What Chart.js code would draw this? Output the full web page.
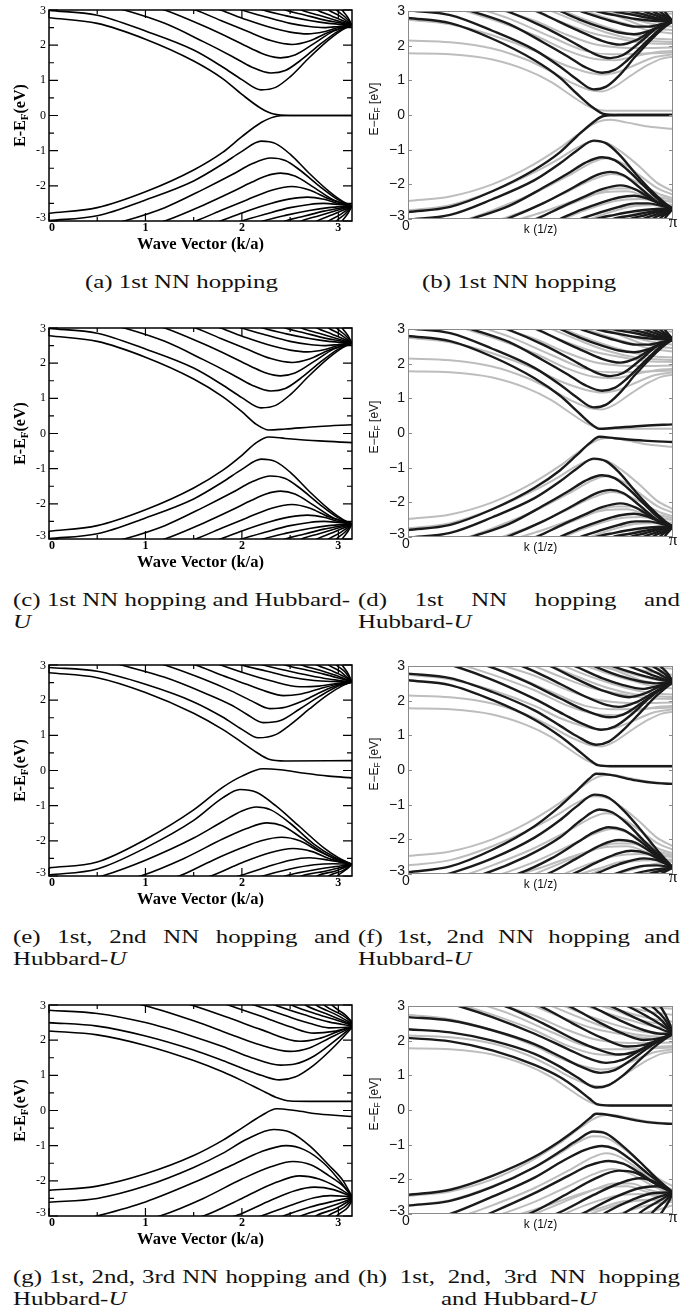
<!DOCTYPE html>
<html>
<head>
<meta charset="utf-8">
<title>band structures</title>
<script src="https://cdn.jsdelivr.net/npm/chart.js@4.4.1/dist/chart.umd.min.js"></script>
<style>
  html, body { margin: 0; padding: 0; background: #fff; }
  #page { position: relative; width: 680px; height: 1316px; overflow: hidden; }
  canvas { position: absolute; }
  .cap { position: absolute; font-family: "Liberation Serif", "Times New Roman", serif; font-size: 19px; line-height: 22px; white-space: nowrap; color: #111; transform-origin: 0 0; }
</style>
</head>
<body>
<div id="page"></div>
<script>
// axis ticks
var yTicks = [-3, -2, -1, 0, 1, 2, 3];
var yMinorLeft = [-2.5, -1.5, -0.5, 0.5, 1.5, 2.5];
var xTicksLeft = [0, 1, 2, 3];
var xMinorLeft = [0.5, 1.5, 2.5];
var xLabelsRight = [[0, '0'], [3.1416, 'π']];

// bands, each one a list of [k, E]
// (a) 1st NN
var aUp = [
  [[0,2.78],[0.5,2.62],[1.0,2.17],[1.5,1.55],[1.8,1.05],[2.0,0.6],[2.2,0.2],[2.33,0.04],[2.5,0],[3.1416,0]],
  [[0,2.99],[0.5,2.85],[1.0,2.4],[1.5,1.86],[1.8,1.38],[2.0,1.02],[2.2,0.73],[2.35,0.8],[2.5,1.1],[2.7,1.65],[2.9,2.15],[3.05,2.45],[3.1416,2.57]],
  [[0.6,3.12],[0.78,3.0],[1.2,2.62],[1.6,2.1],[1.9,1.68],[2.1,1.38],[2.3,1.21],[2.45,1.28],[2.6,1.55],[2.8,2.0],[3.0,2.4],[3.1416,2.57]],
  [[1.05,3.12],[1.2,3.0],[1.6,2.55],[1.9,2.17],[2.1,1.9],[2.25,1.72],[2.4,1.64],[2.55,1.72],[2.75,2.05],[2.95,2.4],[3.1416,2.57]],
  [[1.38,3.12],[1.52,3.0],[1.8,2.68],[2.05,2.4],[2.3,2.13],[2.52,2.02],[2.7,2.12],[2.9,2.37],[3.05,2.5],[3.1416,2.57]],
  [[1.65,3.12],[1.78,3.0],[2.05,2.72],[2.3,2.5],[2.5,2.37],[2.68,2.32],[2.85,2.38],[3.0,2.5],[3.1416,2.57]],
  [[1.88,3.12],[2.0,3.0],[2.25,2.8],[2.5,2.62],[2.7,2.53],[2.85,2.5],[3.0,2.53],[3.1416,2.57]],
  [[2.12,3.1],[2.22,3.0],[2.45,2.84],[2.7,2.7],[2.9,2.62],[3.1416,2.57]],
  [[2.37,3.1],[2.45,3.0],[2.65,2.86],[2.85,2.72],[3.0,2.64],[3.1416,2.57]],
  [[2.56,3.1],[2.62,3.0],[2.8,2.85],[2.98,2.7],[3.1416,2.57]],
  [[2.73,3.1],[2.78,3.0],[2.93,2.83],[3.06,2.68],[3.1416,2.57]],
  [[2.86,3.1],[2.9,3.0],[3.02,2.82],[3.1416,2.57]],
  [[2.95,3.1],[2.98,3.0],[3.07,2.8],[3.1416,2.57]],
  [[3.02,3.1],[3.04,3.0],[3.1,2.78],[3.1416,2.57]]
];
var aDn = [
  [[0,-2.78],[0.5,-2.62],[1.0,-2.17],[1.5,-1.55],[1.8,-1.05],[2.0,-0.6],[2.2,-0.2],[2.33,-0.04],[2.5,0],[3.1416,0]],
  [[0,-2.99],[0.5,-2.85],[1.0,-2.4],[1.5,-1.86],[1.8,-1.38],[2.0,-1.02],[2.2,-0.73],[2.35,-0.8],[2.5,-1.1],[2.7,-1.65],[2.9,-2.15],[3.05,-2.45],[3.1416,-2.57]],
  [[0.6,-3.12],[0.78,-3.0],[1.2,-2.62],[1.6,-2.1],[1.9,-1.68],[2.1,-1.38],[2.3,-1.21],[2.45,-1.28],[2.6,-1.55],[2.8,-2.0],[3.0,-2.4],[3.1416,-2.57]],
  [[1.05,-3.12],[1.2,-3.0],[1.6,-2.55],[1.9,-2.17],[2.1,-1.9],[2.25,-1.72],[2.4,-1.64],[2.55,-1.72],[2.75,-2.05],[2.95,-2.4],[3.1416,-2.57]],
  [[1.38,-3.12],[1.52,-3.0],[1.8,-2.68],[2.05,-2.4],[2.3,-2.13],[2.52,-2.02],[2.7,-2.12],[2.9,-2.37],[3.05,-2.5],[3.1416,-2.57]],
  [[1.65,-3.12],[1.78,-3.0],[2.05,-2.72],[2.3,-2.5],[2.5,-2.37],[2.68,-2.32],[2.85,-2.38],[3.0,-2.5],[3.1416,-2.57]],
  [[1.88,-3.12],[2.0,-3.0],[2.25,-2.8],[2.5,-2.62],[2.7,-2.53],[2.85,-2.5],[3.0,-2.53],[3.1416,-2.57]],
  [[2.12,-3.1],[2.22,-3.0],[2.45,-2.84],[2.7,-2.7],[2.9,-2.62],[3.1416,-2.57]],
  [[2.37,-3.1],[2.45,-3.0],[2.65,-2.86],[2.85,-2.72],[3.0,-2.64],[3.1416,-2.57]],
  [[2.56,-3.1],[2.62,-3.0],[2.8,-2.85],[2.98,-2.7],[3.1416,-2.57]],
  [[2.73,-3.1],[2.78,-3.0],[2.93,-2.83],[3.06,-2.68],[3.1416,-2.57]],
  [[2.86,-3.1],[2.9,-3.0],[3.02,-2.82],[3.1416,-2.57]],
  [[2.95,-3.1],[2.98,-3.0],[3.07,-2.8],[3.1416,-2.57]],
  [[3.02,-3.1],[3.04,-3.0],[3.1,-2.78],[3.1416,-2.57]]
];

// (c) same bands as (a) except the edge pair, which opens a gap
var cEdgeUp = [[0,2.78],[0.5,2.62],[1.0,2.17],[1.5,1.55],[1.8,1.05],[2.0,0.62],[2.15,0.26],[2.28,0.1],[2.45,0.13],[2.8,0.2],[3.1416,0.25]];
var cEdgeDn = [[0,-2.78],[0.5,-2.62],[1.0,-2.17],[1.5,-1.55],[1.8,-1.05],[2.0,-0.62],[2.15,-0.26],[2.28,-0.1],[2.45,-0.14],[2.8,-0.21],[3.1416,-0.26]];

// (e) 1st, 2nd NN + U
var eUp = [
  [[0,2.78],[0.5,2.64],[1.0,2.22],[1.5,1.63],[1.8,1.17],[2.0,0.8],[2.15,0.52],[2.28,0.32],[2.45,0.27],[3.1416,0.28]],
  [[0,2.93],[0.5,2.82],[1.0,2.45],[1.5,1.95],[1.8,1.52],[2.0,1.17],[2.17,0.93],[2.35,1.02],[2.5,1.3],[2.7,1.75],[2.9,2.17],[3.05,2.42],[3.1416,2.52]],
  [[0.6,3.12],[0.75,3.0],[1.2,2.65],[1.6,2.22],[1.9,1.85],[2.05,1.6],[2.22,1.36],[2.4,1.42],[2.6,1.75],[2.8,2.1],[3.0,2.4],[3.1416,2.52]],
  [[1.05,3.12],[1.2,3.0],[1.6,2.6],[1.9,2.25],[2.1,1.98],[2.29,1.76],[2.45,1.8],[2.65,2.0],[2.85,2.27],[3.0,2.43],[3.1416,2.52]],
  [[1.38,3.12],[1.52,3.0],[1.8,2.7],[2.05,2.45],[2.25,2.25],[2.43,2.13],[2.6,2.17],[2.8,2.32],[3.0,2.46],[3.1416,2.52]],
  [[1.66,3.12],[1.78,3.0],[2.05,2.75],[2.3,2.55],[2.6,2.38],[2.8,2.4],[3.0,2.48],[3.1416,2.52]],
  [[1.9,3.12],[2.0,3.0],[2.25,2.83],[2.5,2.66],[2.75,2.56],[2.95,2.53],[3.1416,2.52]],
  [[2.12,3.1],[2.22,3.0],[2.45,2.85],[2.7,2.7],[2.9,2.6],[3.1416,2.52]],
  [[2.37,3.1],[2.45,3.0],[2.65,2.87],[2.85,2.74],[3.0,2.63],[3.1416,2.52]],
  [[2.56,3.1],[2.62,3.0],[2.8,2.86],[2.98,2.7],[3.1416,2.52]],
  [[2.73,3.1],[2.78,3.0],[2.93,2.84],[3.06,2.67],[3.1416,2.52]],
  [[2.86,3.1],[2.9,3.0],[3.02,2.82],[3.1416,2.52]],
  [[2.95,3.1],[2.98,3.0],[3.07,2.8],[3.1416,2.52]],
  [[3.02,3.1],[3.04,3.0],[3.1,2.76],[3.1416,2.52]]
];
var eDn = [
  [[0,-2.77],[0.5,-2.6],[1.0,-1.96],[1.5,-1.12],[1.8,-0.48],[2.0,-0.16],[2.22,0.05],[2.4,0.02],[2.65,-0.08],[2.9,-0.16],[3.1416,-0.21]],
  [[0,-2.97],[0.5,-2.8],[1.0,-2.2],[1.5,-1.42],[1.8,-0.78],[1.98,-0.54],[2.15,-0.62],[2.35,-1.0],[2.6,-1.6],[2.85,-2.2],[3.0,-2.48],[3.1416,-2.67]],
  [[0.4,-3.1],[0.55,-3.0],[1.0,-2.55],[1.5,-1.92],[1.8,-1.45],[2.0,-1.15],[2.15,-1.04],[2.3,-1.12],[2.5,-1.5],[2.75,-2.1],[2.95,-2.45],[3.1416,-2.67]],
  [[0.8,-3.1],[0.95,-3.0],[1.4,-2.5],[1.8,-1.95],[2.05,-1.65],[2.26,-1.49],[2.42,-1.57],[2.62,-1.92],[2.85,-2.35],[3.0,-2.55],[3.1416,-2.67]],
  [[1.2,-3.1],[1.35,-3.0],[1.7,-2.55],[2.0,-2.2],[2.2,-2.0],[2.41,-1.9],[2.6,-2.0],[2.8,-2.3],[3.0,-2.55],[3.1416,-2.67]],
  [[1.55,-3.1],[1.68,-3.0],[2.0,-2.62],[2.3,-2.33],[2.53,-2.22],[2.72,-2.3],[2.92,-2.52],[3.1416,-2.67]],
  [[1.85,-3.1],[1.97,-3.0],[2.25,-2.75],[2.5,-2.55],[2.7,-2.48],[2.9,-2.55],[3.1416,-2.67]],
  [[2.12,-3.1],[2.22,-3.0],[2.5,-2.8],[2.75,-2.68],[2.95,-2.65],[3.1416,-2.67]],
  [[2.37,-3.1],[2.45,-3.0],[2.7,-2.85],[2.95,-2.74],[3.1416,-2.67]],
  [[2.56,-3.1],[2.62,-3.0],[2.85,-2.87],[3.02,-2.76],[3.1416,-2.67]],
  [[2.73,-3.1],[2.78,-3.0],[2.98,-2.85],[3.1416,-2.67]],
  [[2.86,-3.1],[2.9,-3.0],[3.05,-2.84],[3.1416,-2.67]],
  [[2.96,-3.1],[2.99,-3.0],[3.09,-2.8],[3.1416,-2.67]]
];

// (g) 1st, 2nd, 3rd NN + U
var gUp = [
  [[0,2.26],[0.5,2.15],[1.0,1.85],[1.5,1.42],[1.8,1.1],[2.0,0.85],[2.2,0.58],[2.35,0.38],[2.5,0.27],[2.7,0.26],[3.1416,0.26]],
  [[0,2.5],[0.5,2.4],[1.0,2.12],[1.5,1.72],[1.8,1.42],[2.05,1.15],[2.2,1.0],[2.39,0.87],[2.55,0.95],[2.75,1.3],[2.95,1.8],[3.1416,2.36]],
  [[0,2.85],[0.5,2.76],[1.0,2.5],[1.5,2.1],[1.8,1.82],[2.1,1.5],[2.4,1.29],[2.55,1.32],[2.75,1.55],[2.95,1.95],[3.1416,2.38]],
  [[0.8,3.1],[1.0,2.98],[1.5,2.55],[1.85,2.2],[2.15,1.9],[2.5,1.68],[2.7,1.78],[2.9,2.05],[3.05,2.25],[3.1416,2.38]],
  [[1.35,3.1],[1.5,2.98],[1.9,2.6],[2.2,2.3],[2.6,1.97],[2.8,2.05],[3.0,2.25],[3.1416,2.38]],
  [[1.75,3.1],[1.88,2.98],[2.2,2.68],[2.5,2.38],[2.75,2.2],[2.95,2.25],[3.1416,2.38]],
  [[2.02,3.1],[2.15,2.98],[2.45,2.7],[2.7,2.48],[2.9,2.35],[3.05,2.36],[3.1416,2.38]],
  [[2.25,3.1],[2.36,2.98],[2.65,2.72],[2.9,2.52],[3.1416,2.4]],
  [[2.45,3.1],[2.53,2.98],[2.8,2.72],[3.0,2.55],[3.1416,2.42]],
  [[2.6,3.1],[2.67,2.98],[2.9,2.72],[3.1416,2.45]],
  [[2.72,3.1],[2.78,2.98],[2.98,2.72],[3.1416,2.47]],
  [[2.82,3.1],[2.86,2.98],[3.05,2.7],[3.1416,2.5]],
  [[2.9,3.1],[2.94,2.98],[3.08,2.7],[3.1416,2.52]]
];
var gDn = [
  [[0,-2.27],[0.5,-2.15],[1.0,-1.8],[1.5,-1.28],[1.8,-0.85],[2.0,-0.5],[2.2,-0.15],[2.36,0.05],[2.55,0.0],[2.8,-0.1],[3.1416,-0.17]],
  [[0,-2.61],[0.5,-2.5],[1.0,-2.15],[1.5,-1.62],[1.8,-1.22],[2.05,-0.82],[2.33,-0.54],[2.5,-0.62],[2.7,-1.0],[2.9,-1.55],[3.05,-2.0],[3.1416,-2.45]],
  [[0.35,-3.1],[0.5,-3.0],[1.0,-2.6],[1.5,-2.05],[1.9,-1.55],[2.2,-1.17],[2.46,-1.0],[2.65,-1.12],[2.85,-1.5],[3.0,-1.95],[3.1416,-2.45]],
  [[1.0,-3.1],[1.15,-3.0],[1.6,-2.5],[2.0,-1.95],[2.3,-1.6],[2.53,-1.45],[2.72,-1.55],[2.9,-1.85],[3.05,-2.15],[3.1416,-2.45]],
  [[1.45,-3.1],[1.6,-3.0],[2.0,-2.5],[2.35,-2.05],[2.6,-1.86],[2.8,-1.95],[3.0,-2.2],[3.1416,-2.45]],
  [[1.8,-3.1],[1.95,-2.98],[2.3,-2.55],[2.55,-2.28],[2.75,-2.18],[2.95,-2.25],[3.1416,-2.45]],
  [[2.1,-3.1],[2.22,-2.98],[2.5,-2.7],[2.75,-2.48],[2.92,-2.42],[3.1416,-2.45]],
  [[2.35,-3.1],[2.45,-2.98],[2.7,-2.75],[2.95,-2.58],[3.1416,-2.47]],
  [[2.55,-3.1],[2.63,-2.98],[2.88,-2.76],[3.05,-2.6],[3.1416,-2.5]],
  [[2.72,-3.1],[2.78,-2.98],[2.98,-2.78],[3.1416,-2.52]],
  [[2.85,-3.1],[2.9,-2.98],[3.06,-2.75],[3.1416,-2.54]],
  [[2.95,-3.1],[2.99,-2.98],[3.1,-2.75],[3.1416,-2.56]]
];

// (b) black bands, right column
var bUp = [
  [[0,2.8],[0.5,2.65],[1.0,2.2],[1.5,1.58],[1.8,1.08],[2.0,0.62],[2.2,0.2],[2.32,0.03],[2.5,0],[3.1416,0]],
  [[0,3.02],[0.5,2.88],[1.0,2.43],[1.5,1.88],[1.8,1.4],[2.0,1.03],[2.2,0.74],[2.35,0.82],[2.5,1.13],[2.7,1.7],[2.9,2.22],[3.05,2.55],[3.1416,2.7]],
  [[0.6,3.12],[0.75,3.0],[1.2,2.62],[1.6,2.1],[1.9,1.68],[2.1,1.38],[2.3,1.22],[2.45,1.3],[2.6,1.58],[2.8,2.05],[3.0,2.5],[3.1416,2.7]],
  [[1.03,3.12],[1.17,3.0],[1.6,2.55],[1.9,2.17],[2.1,1.9],[2.25,1.72],[2.4,1.64],[2.55,1.73],[2.75,2.1],[2.95,2.5],[3.1416,2.7]],
  [[1.38,3.12],[1.52,3.0],[1.8,2.68],[2.05,2.4],[2.3,2.14],[2.52,2.03],[2.7,2.15],[2.9,2.45],[3.05,2.62],[3.1416,2.7]],
  [[1.67,3.12],[1.8,3.0],[2.05,2.74],[2.3,2.52],[2.5,2.38],[2.68,2.33],[2.85,2.42],[3.0,2.58],[3.1416,2.7]],
  [[1.92,3.12],[2.04,3.0],[2.25,2.83],[2.5,2.65],[2.7,2.55],[2.85,2.55],[3.0,2.62],[3.1416,2.7]],
  [[2.14,3.1],[2.23,3.0],[2.45,2.88],[2.7,2.77],[2.9,2.72],[3.1416,2.7]],
  [[2.36,3.1],[2.43,3.0],[2.65,2.9],[2.85,2.8],[3.0,2.74],[3.1416,2.7]],
  [[2.56,3.1],[2.63,3.0],[2.8,2.9],[2.98,2.78],[3.1416,2.7]],
  [[2.73,3.1],[2.79,3.0],[2.93,2.88],[3.06,2.76],[3.1416,2.7]],
  [[2.86,3.1],[2.9,3.0],[3.02,2.86],[3.1416,2.7]],
  [[2.95,3.1],[2.98,3.0],[3.07,2.84],[3.1416,2.7]],
  [[3.02,3.1],[3.04,3.0],[3.1,2.82],[3.1416,2.7]]
];
var bDn = [
  [[0,-2.8],[0.5,-2.65],[1.0,-2.2],[1.5,-1.58],[1.8,-1.08],[2.0,-0.62],[2.2,-0.2],[2.32,-0.03],[2.5,0],[3.1416,0]],
  [[0,-3.02],[0.5,-2.88],[1.0,-2.43],[1.5,-1.88],[1.8,-1.4],[2.0,-1.03],[2.2,-0.74],[2.35,-0.82],[2.5,-1.13],[2.7,-1.7],[2.9,-2.22],[3.05,-2.55],[3.1416,-2.7]],
  [[0.6,-3.12],[0.75,-3.0],[1.2,-2.62],[1.6,-2.1],[1.9,-1.68],[2.1,-1.38],[2.3,-1.22],[2.45,-1.3],[2.6,-1.58],[2.8,-2.05],[3.0,-2.5],[3.1416,-2.7]],
  [[1.03,-3.12],[1.17,-3.0],[1.6,-2.55],[1.9,-2.17],[2.1,-1.9],[2.25,-1.72],[2.4,-1.64],[2.55,-1.73],[2.75,-2.1],[2.95,-2.5],[3.1416,-2.7]],
  [[1.38,-3.12],[1.52,-3.0],[1.8,-2.68],[2.05,-2.4],[2.3,-2.14],[2.52,-2.03],[2.7,-2.15],[2.9,-2.45],[3.05,-2.62],[3.1416,-2.7]],
  [[1.67,-3.12],[1.8,-3.0],[2.05,-2.74],[2.3,-2.52],[2.5,-2.38],[2.68,-2.33],[2.85,-2.42],[3.0,-2.58],[3.1416,-2.7]],
  [[1.92,-3.12],[2.04,-3.0],[2.25,-2.83],[2.5,-2.65],[2.7,-2.55],[2.85,-2.55],[3.0,-2.62],[3.1416,-2.7]],
  [[2.14,-3.1],[2.23,-3.0],[2.45,-2.88],[2.7,-2.77],[2.9,-2.72],[3.1416,-2.7]],
  [[2.36,-3.1],[2.43,-3.0],[2.65,-2.9],[2.85,-2.8],[3.0,-2.74],[3.1416,-2.7]],
  [[2.56,-3.1],[2.63,-3.0],[2.8,-2.9],[2.98,-2.78],[3.1416,-2.7]],
  [[2.73,-3.1],[2.79,-3.0],[2.93,-2.88],[3.06,-2.76],[3.1416,-2.7]],
  [[2.86,-3.1],[2.9,-3.0],[3.02,-2.86],[3.1416,-2.7]],
  [[2.95,-3.1],[2.98,-3.0],[3.07,-2.84],[3.1416,-2.7]],
  [[3.02,-3.1],[3.04,-3.0],[3.1,-2.82],[3.1416,-2.7]]
];

// (d) like (b) but gapped edge pair
var dEdgeUp = [[0,2.8],[0.5,2.65],[1.0,2.2],[1.5,1.58],[1.8,1.08],[2.0,0.64],[2.15,0.3],[2.27,0.12],[2.45,0.15],[2.8,0.21],[3.1416,0.25]];
var dEdgeDn = [[0,-2.8],[0.5,-2.65],[1.0,-2.2],[1.5,-1.58],[1.8,-1.08],[2.0,-0.64],[2.15,-0.3],[2.27,-0.11],[2.45,-0.15],[2.8,-0.22],[3.1416,-0.26]];

// (f) black
var fUp = [
  [[0,2.59],[0.5,2.45],[1.0,2.02],[1.5,1.45],[1.8,0.98],[2.0,0.6],[2.15,0.3],[2.25,0.14],[2.4,0.11],[3.1416,0.11]],
  [[0,2.78],[0.5,2.65],[1.0,2.25],[1.5,1.72],[1.8,1.28],[2.0,0.98],[2.23,0.73],[2.38,0.82],[2.55,1.15],[2.75,1.65],[2.95,2.15],[3.1416,2.54]],
  [[0.4,3.1],[0.55,3.0],[1.0,2.6],[1.5,2.05],[1.85,1.6],[2.1,1.3],[2.29,1.16],[2.45,1.25],[2.65,1.6],[2.85,2.05],[3.0,2.35],[3.1416,2.54]],
  [[0.8,3.1],[0.95,3.0],[1.4,2.55],[1.8,2.07],[2.1,1.72],[2.39,1.52],[2.55,1.6],[2.75,1.9],[2.95,2.25],[3.1416,2.54]],
  [[1.2,3.1],[1.35,3.0],[1.75,2.55],[2.1,2.12],[2.35,1.88],[2.5,1.82],[2.7,1.95],[2.9,2.22],[3.05,2.42],[3.1416,2.54]],
  [[1.55,3.1],[1.68,3.0],[2.0,2.62],[2.3,2.3],[2.62,2.1],[2.8,2.2],[3.0,2.43],[3.1416,2.54]],
  [[1.85,3.1],[1.97,3.0],[2.3,2.65],[2.55,2.45],[2.78,2.34],[2.95,2.42],[3.1416,2.54]],
  [[2.1,3.1],[2.2,3.0],[2.5,2.72],[2.75,2.56],[2.95,2.5],[3.1416,2.54]],
  [[2.33,3.1],[2.42,3.0],[2.7,2.78],[2.95,2.62],[3.1416,2.54]],
  [[2.55,3.1],[2.62,3.0],[2.85,2.78],[3.02,2.63],[3.1416,2.54]],
  [[2.72,3.1],[2.78,3.0],[2.95,2.8],[3.1416,2.54]],
  [[2.85,3.1],[2.9,3.0],[3.04,2.78],[3.1416,2.54]],
  [[2.95,3.1],[2.99,3.0],[3.09,2.75],[3.1416,2.54]]
];
var fDn = [
  [[0,-2.95],[0.5,-2.78],[1.0,-2.3],[1.5,-1.62],[1.8,-1.05],[2.0,-0.6],[2.15,-0.25],[2.23,-0.11],[2.4,-0.14],[2.7,-0.3],[2.95,-0.38],[3.1416,-0.4]],
  [[0.3,-3.1],[0.5,-2.98],[1.0,-2.55],[1.5,-1.95],[1.8,-1.45],[2.0,-1.05],[2.21,-0.71],[2.38,-0.8],[2.55,-1.15],[2.75,-1.7],[2.95,-2.3],[3.1416,-2.82]],
  [[0.75,-3.1],[0.9,-3.0],[1.4,-2.5],[1.8,-1.95],[2.05,-1.45],[2.27,-1.14],[2.42,-1.22],[2.6,-1.55],[2.8,-2.05],[3.0,-2.5],[3.1416,-2.82]],
  [[1.15,-3.1],[1.3,-3.0],[1.7,-2.55],[2.0,-2.1],[2.2,-1.8],[2.38,-1.65],[2.55,-1.73],[2.75,-2.05],[2.95,-2.45],[3.1416,-2.82]],
  [[1.5,-3.1],[1.65,-3.0],[2.0,-2.55],[2.3,-2.15],[2.5,-2.02],[2.7,-2.1],[2.9,-2.4],[3.05,-2.65],[3.1416,-2.82]],
  [[1.8,-3.1],[1.95,-3.0],[2.25,-2.65],[2.5,-2.4],[2.65,-2.33],[2.85,-2.42],[3.0,-2.62],[3.1416,-2.82]],
  [[2.1,-3.1],[2.22,-3.0],[2.5,-2.72],[2.8,-2.55],[2.95,-2.6],[3.1416,-2.82]],
  [[2.35,-3.1],[2.45,-3.0],[2.75,-2.78],[2.95,-2.75],[3.1416,-2.82]],
  [[2.6,-3.1],[2.68,-3.0],[2.9,-2.88],[3.1416,-2.82]],
  [[2.8,-3.1],[2.86,-3.0],[3.02,-2.9],[3.1416,-2.82]],
  [[2.95,-3.1],[3.0,-3.0],[3.1416,-2.82]]
];

// (h) black
var hUp = [
  [[0,2.08],[0.5,1.98],[1.0,1.72],[1.5,1.3],[1.8,0.95],[2.0,0.62],[2.15,0.33],[2.25,0.16],[2.4,0.13],[3.1416,0.13]],
  [[0,2.33],[0.5,2.24],[1.0,2.0],[1.5,1.62],[1.8,1.25],[2.0,0.95],[2.23,0.65],[2.38,0.72],[2.55,1.0],[2.75,1.45],[2.95,1.88],[3.1416,2.2]],
  [[0,2.68],[0.5,2.58],[1.0,2.3],[1.5,1.9],[1.8,1.55],[2.05,1.25],[2.28,1.07],[2.45,1.15],[2.65,1.45],[2.85,1.8],[3.0,2.03],[3.1416,2.2]],
  [[0.45,3.1],[0.6,3.0],[1.0,2.68],[1.5,2.2],[1.9,1.75],[2.15,1.48],[2.35,1.36],[2.55,1.45],[2.75,1.72],[2.95,2.0],[3.1416,2.2]],
  [[1.0,3.1],[1.15,3.0],[1.6,2.5],[2.0,2.0],[2.25,1.75],[2.5,1.6],[2.7,1.68],[2.9,1.93],[3.1416,2.2]],
  [[1.42,3.1],[1.56,3.0],[1.95,2.5],[2.3,2.08],[2.6,1.83],[2.8,1.88],[3.0,2.05],[3.1416,2.2]],
  [[1.77,3.1],[1.9,3.0],[2.25,2.55],[2.55,2.2],[2.8,2.02],[3.0,2.08],[3.1416,2.2]],
  [[2.05,3.1],[2.16,3.0],[2.5,2.6],[2.8,2.3],[3.0,2.2],[3.1416,2.2]],
  [[2.3,3.1],[2.4,3.0],[2.7,2.65],[2.95,2.38],[3.1416,2.2]],
  [[2.52,3.1],[2.6,3.0],[2.85,2.68],[3.05,2.38],[3.1416,2.2]],
  [[2.7,3.1],[2.76,3.0],[2.98,2.65],[3.1416,2.2]],
  [[2.84,3.1],[2.89,3.0],[3.05,2.6],[3.1416,2.2]],
  [[2.95,3.1],[2.99,3.0],[3.1,2.5],[3.1416,2.2]]
];
var hDn = [
  [[0,-2.45],[0.5,-2.3],[1.0,-1.9],[1.5,-1.35],[1.8,-0.9],[2.0,-0.55],[2.15,-0.25],[2.23,-0.11],[2.4,-0.15],[2.7,-0.3],[2.95,-0.38],[3.1416,-0.4]],
  [[0,-2.76],[0.5,-2.62],[1.0,-2.22],[1.5,-1.65],[1.8,-1.2],[2.0,-0.88],[2.2,-0.62],[2.35,-0.68],[2.55,-1.05],[2.75,-1.5],[2.95,-1.98],[3.1416,-2.38]],
  [[0.35,-3.1],[0.5,-3.0],[1.0,-2.5],[1.5,-1.95],[1.85,-1.45],[2.1,-1.15],[2.3,-1.04],[2.45,-1.12],[2.65,-1.45],[2.85,-1.85],[3.0,-2.12],[3.1416,-2.38]],
  [[0.85,-3.1],[1.0,-2.95],[1.5,-2.4],[1.9,-1.9],[2.15,-1.6],[2.38,-1.47],[2.55,-1.55],[2.75,-1.82],[2.95,-2.15],[3.1416,-2.38]],
  [[1.3,-3.1],[1.45,-2.98],[1.9,-2.4],[2.2,-2.0],[2.5,-1.75],[2.68,-1.8],[2.9,-2.08],[3.1416,-2.38]],
  [[1.65,-3.1],[1.8,-2.95],[2.2,-2.45],[2.5,-2.12],[2.75,-1.97],[2.95,-2.1],[3.1416,-2.38]],
  [[1.98,-3.1],[2.1,-2.95],[2.45,-2.52],[2.75,-2.25],[2.95,-2.2],[3.1416,-2.38]],
  [[2.25,-3.1],[2.35,-2.95],[2.65,-2.6],[2.9,-2.4],[3.1416,-2.38]],
  [[2.5,-3.1],[2.58,-2.95],[2.85,-2.62],[3.05,-2.45],[3.1416,-2.38]],
  [[2.7,-3.1],[2.76,-2.95],[2.98,-2.62],[3.1416,-2.38]],
  [[2.86,-3.1],[2.9,-2.95],[3.06,-2.6],[3.1416,-2.38]],
  [[2.97,-3.1],[3.01,-2.95],[3.1,-2.6],[3.1416,-2.38]]
];

// grey reference bands, same in all four right panels
var greyUp = [
  [[0,1.78],[0.5,1.75],[1.0,1.6],[1.4,1.3],[1.7,0.95],[1.9,0.62],[2.1,0.3],[2.25,0.15],[2.4,0.12],[3.1416,0.12]],
  [[0,2.15],[0.5,2.1],[1.0,1.92],[1.4,1.6],[1.7,1.25],[1.95,0.92],[2.15,0.72],[2.3,0.68],[2.45,0.82],[2.65,1.15],[2.85,1.45],[3.0,1.62],[3.1416,1.68]],
  [[0,2.75],[0.5,2.62],[1.0,2.3],[1.5,1.85],[1.8,1.5],[2.1,1.25],[2.3,1.17],[2.5,1.25],[2.7,1.45],[2.9,1.65],[3.1416,1.75]],
  [[0.55,3.1],[1.0,2.75],[1.5,2.3],[1.9,1.85],[2.2,1.62],[2.45,1.58],[2.7,1.7],[2.95,1.82],[3.1416,1.85]],
  [[0.8,3.1],[1.2,2.78],[1.7,2.25],[2.1,1.85],[2.4,1.75],[2.7,1.76],[3.1416,1.8]],
  [[1.0,3.1],[1.5,2.72],[1.9,2.3],[2.2,2.05],[2.5,1.95],[2.75,1.93],[3.1416,1.95]],
  [[1.4,3.1],[1.8,2.7],[2.2,2.35],[2.5,2.2],[2.8,2.08],[3.1416,2.05]],
  [[1.6,3.1],[2.0,2.7],[2.35,2.38],[2.7,2.18],[3.1416,2.1]],
  [[1.75,3.1],[2.1,2.75],[2.4,2.5],[2.7,2.3],[2.95,2.2],[3.1416,2.18]],
  [[2.0,3.1],[2.35,2.8],[2.65,2.58],[2.9,2.42],[3.1416,2.35]],
  [[2.15,3.1],[2.45,2.88],[2.75,2.6],[3.0,2.48],[3.1416,2.45]],
  [[2.25,3.1],[2.55,2.85],[2.8,2.68],[3.0,2.58],[3.1416,2.55]],
  [[2.45,3.1],[2.7,2.92],[2.9,2.82],[3.1416,2.75]],
  [[2.62,3.1],[2.85,2.97],[3.1416,2.92]]
];
var greyDn = [
  [[0,-2.48],[0.5,-2.35],[1.0,-2.0],[1.4,-1.55],[1.8,-0.95],[2.05,-0.5],[2.25,-0.2],[2.4,-0.14],[2.6,-0.22],[2.85,-0.33],[3.1416,-0.4]],
  [[0,-2.75],[0.5,-2.6],[1.0,-2.2],[1.5,-1.65],[1.8,-1.25],[2.0,-0.95],[2.2,-0.76],[2.35,-0.8],[2.55,-1.1],[2.75,-1.5],[2.95,-1.95],[3.1416,-2.2]],
  [[0.6,-3.1],[1.0,-2.75],[1.5,-2.25],[1.9,-1.75],[2.2,-1.35],[2.35,-1.25],[2.55,-1.4],[2.75,-1.75],[2.95,-2.1],[3.1416,-2.3]],
  [[1.0,-3.1],[1.5,-2.65],[1.9,-2.2],[2.2,-1.85],[2.42,-1.7],[2.6,-1.8],[2.8,-2.05],[3.0,-2.3],[3.1416,-2.4]],
  [[1.2,-3.1],[1.6,-2.8],[2.0,-2.45],[2.35,-2.22],[2.6,-2.2],[2.85,-2.38],[3.1416,-2.5]],
  [[1.4,-3.1],[1.8,-2.7],[2.15,-2.35],[2.45,-2.12],[2.65,-2.12],[2.85,-2.3],[3.1416,-2.45]],
  [[1.75,-3.1],[2.1,-2.75],[2.45,-2.48],[2.75,-2.42],[2.95,-2.48],[3.1416,-2.5]],
  [[1.9,-3.1],[2.25,-2.85],[2.6,-2.62],[2.9,-2.6],[3.1416,-2.62]],
  [[2.05,-3.1],[2.4,-2.8],[2.7,-2.62],[2.95,-2.58],[3.1416,-2.58]],
  [[2.35,-3.1],[2.65,-2.88],[2.9,-2.72],[3.1416,-2.65]],
  [[2.6,-3.1],[2.85,-2.95],[3.1416,-2.75]]
];

var cUp = [cEdgeUp].concat(aUp.slice(1));
var cDn = [cEdgeDn].concat(aDn.slice(1));
var dUp = [dEdgeUp].concat(bUp.slice(1));
var dDn = [dEdgeDn].concat(bDn.slice(1));

var page = document.getElementById('page');
var rowTop = [10, 328, 665, 1005];
var PLOT_H = 211;

function drawParts(ctx, parts, cx, cy, rotate) {
  ctx.save();
  ctx.translate(cx, cy);
  if (rotate) ctx.rotate(-Math.PI / 2);
  var total = 0;
  parts.forEach(function (p) { ctx.font = p[1]; total += ctx.measureText(p[0]).width; });
  var xx = -total / 2;
  ctx.textAlign = 'left';
  ctx.textBaseline = 'middle';
  parts.forEach(function (p) {
    ctx.font = p[1];
    ctx.fillText(p[0], xx, p[2]);
    xx += ctx.measureText(p[0]).width;
  });
  ctx.restore();
}

function drawGrace(ctx, a, x, y) {
  ctx.save();
  ctx.strokeStyle = '#000';
  ctx.lineWidth = 1.5;
  ctx.strokeRect(a.left, a.top, a.right - a.left, a.bottom - a.top);
  ctx.lineWidth = 1.2;
  ctx.beginPath();
  yTicks.forEach(function (v) {
    var py = y.getPixelForValue(v);
    ctx.moveTo(a.left, py); ctx.lineTo(a.left + 9, py);
    ctx.moveTo(a.right, py); ctx.lineTo(a.right - 9, py);
  });
  yMinorLeft.forEach(function (v) {
    var py = y.getPixelForValue(v);
    ctx.moveTo(a.left, py); ctx.lineTo(a.left + 5, py);
    ctx.moveTo(a.right, py); ctx.lineTo(a.right - 5, py);
  });
  xTicksLeft.forEach(function (v) {
    var px = x.getPixelForValue(v);
    ctx.moveTo(px, a.bottom); ctx.lineTo(px, a.bottom - 8);
    ctx.moveTo(px, a.top); ctx.lineTo(px, a.top + 8);
  });
  xMinorLeft.forEach(function (v) {
    var px = x.getPixelForValue(v);
    ctx.moveTo(px, a.bottom); ctx.lineTo(px, a.bottom - 4);
    ctx.moveTo(px, a.top); ctx.lineTo(px, a.top + 4);
  });
  ctx.stroke();

  ctx.fillStyle = '#000';
  ctx.font = '12px "Liberation Serif"';
  ctx.textAlign = 'right';
  ctx.textBaseline = 'middle';
  yTicks.forEach(function (v) {
    var off = v === -3 ? -3 : (v === 3 ? 1 : 0);
    ctx.fillText(v < 0 ? '-' + (-v) : String(v), a.left - 3, y.getPixelForValue(v) + off);
  });
  ctx.font = 'bold 12px "Liberation Serif"';
  ctx.textAlign = 'center';
  ctx.textBaseline = 'top';
  xTicksLeft.forEach(function (v) {
    ctx.fillText(String(v), x.getPixelForValue(v) + (v === 0 ? 3 : 0), a.bottom + 1);
  });
  ctx.font = 'bold 16.5px "Liberation Serif"';
  ctx.textBaseline = 'middle';
  ctx.fillText('Wave Vector (k/a)', (a.left + a.right) / 2, a.bottom + 24);
  drawParts(ctx, [['E-E', 'bold 16px "Liberation Serif"', 0], ['F', 'bold 11px "Liberation Serif"', 4], ['(eV)', 'bold 16px "Liberation Serif"', 0]],
    a.left - 28, (a.top + a.bottom) / 2, true);
  ctx.restore();
}

function drawMatlab(ctx, a, x, y) {
  ctx.save();
  ctx.strokeStyle = '#8a8a8a';
  ctx.lineWidth = 1;
  ctx.strokeRect(a.left + 0.5, a.top + 0.5, a.right - a.left - 1, a.bottom - a.top - 1);
  ctx.beginPath();
  yTicks.forEach(function (v) {
    var py = Math.round(y.getPixelForValue(v)) + 0.5;
    ctx.moveTo(a.left, py); ctx.lineTo(a.left + 4, py);
    ctx.moveTo(a.right, py); ctx.lineTo(a.right - 4, py);
  });
  ctx.stroke();

  ctx.fillStyle = '#111';
  ctx.font = '14px "Liberation Sans"';
  ctx.textAlign = 'right';
  ctx.textBaseline = 'middle';
  yTicks.forEach(function (v) {
    var off = v === -3 ? -3 : 0;
    ctx.fillText(v < 0 ? '\u2212' + (-v) : String(v), a.left - 3, y.getPixelForValue(v) + off);
  });
  ctx.textAlign = 'center';
  xLabelsRight.forEach(function (t) {
    var px = x.getPixelForValue(t[0]);
    if (t[1] === '0') {
      ctx.font = '14px "Liberation Sans"';
      ctx.fillText(t[1], px - 2, a.bottom + 7);
    } else {
      ctx.font = '17px "Liberation Serif"';
      ctx.fillText(t[1], px, a.bottom + 4);
    }
  });
  ctx.font = '12px "Liberation Sans"';
  ctx.fillText('k (1/z)', (a.left + a.right) / 2, a.bottom + 11);
  drawParts(ctx, [['E\u2212E', '12px "Liberation Sans"', 0], ['F', '8.5px "Liberation Sans"', 3], [' [eV]', '12px "Liberation Sans"', 0]],
    a.left - 33, (a.top + a.bottom) / 2 - 6, true);
  ctx.restore();
}

Chart.register({
  id: 'frame',
  afterDraw: function (chart, args, opts) {
    var a = chart.chartArea;
    if (opts.kind === 'grace') drawGrace(chart.ctx, a, chart.scales.x, chart.scales.y);
    else drawMatlab(chart.ctx, a, chart.scales.x, chart.scales.y);
  }
});

function curve(pts, color, width, order) {
  return {
    data: pts.map(function (p) { return { x: p[0], y: p[1] }; }),
    borderColor: color,
    borderWidth: width,
    pointRadius: 0,
    fill: false,
    cubicInterpolationMode: 'monotone',
    clip: 0,
    order: order
  };
}

function makePanel(col, row, sets) {
  var cv = document.createElement('canvas');
  var x0 = col === 0 ? 0 : 360, cw = col === 0 ? 360 : 320, ch = 270;
  var plotL = col === 0 ? 49 : 408, plotR = col === 0 ? 352 : 673;
  var pt = col === 0 ? 10 : 11;
  var ph = col === 0 ? PLOT_H : PLOT_H - 3;
  cv.width = cw; cv.height = ch;
  cv.style.left = x0 + 'px';
  cv.style.top = (rowTop[row] - 10) + 'px';
  page.appendChild(cv);
  new Chart(cv, {
    type: 'line',
    data: { datasets: sets },
    options: {
      responsive: false,
      animation: false,
      events: [],
      layout: { autoPadding: false, padding: { left: plotL - x0, right: x0 + cw - plotR, top: pt, bottom: ch - pt - ph } },
      scales: {
        x: { type: 'linear', min: 0, max: Math.PI, display: false },
        y: { type: 'linear', min: -3, max: 3, display: false }
      },
      elements: { line: { capBezierPoints: false } },
      plugins: { legend: { display: false }, tooltip: { enabled: false }, frame: { kind: col === 0 ? 'grace' : 'matlab' } }
    }
  });
}

function leftSets(up, dn) {
  return up.concat(dn).map(function (b) { return curve(b, '#000', 1.6, 1); });
}
function rightSets(up, dn) {
  var grey = greyUp.concat(greyDn).map(function (b) { return curve(b, '#bdbdbd', 2, 2); });
  var black = up.concat(dn).map(function (b) { return curve(b, '#1a1a1a', 2.4, 1); });
  return black.concat(grey);
}

makePanel(0, 0, leftSets(aUp, aDn));
makePanel(1, 0, rightSets(bUp, bDn));
makePanel(0, 1, leftSets(cUp, cDn));
makePanel(1, 1, rightSets(dUp, dDn));
makePanel(0, 2, leftSets(eUp, eDn));
makePanel(1, 2, rightSets(fUp, fDn));
makePanel(0, 3, leftSets(gUp, gDn));
makePanel(1, 3, rightSets(hUp, hDn));

// captions
var SX = 1.31;
var captions = [
  [0, 0, [['(a) 1st NN hopping', 'center']]],
  [1, 0, [['(b) 1st NN hopping', 'center']]],
  [0, 1, [['(c) 1st NN hopping and Hubbard-', 'justify'], ['<i>U</i>', 'left']]],
  [1, 1, [['(d) 1st NN hopping and', 'justify'], ['Hubbard-<i>U</i>', 'left']]],
  [0, 2, [['(e) 1st, 2nd NN hopping and', 'justify'], ['Hubbard-<i>U</i>', 'left']]],
  [1, 2, [['(f) 1st, 2nd NN hopping and', 'justify'], ['Hubbard-<i>U</i>', 'left']]],
  [0, 3, [['(g) 1st, 2nd, 3rd NN hopping and', 'justify'], ['Hubbard-<i>U</i>', 'left']]],
  [1, 3, [['(h) 1st, 2nd, 3rd NN hopping', 'justify'], ['and Hubbard-<i>U</i>', 'center']]]
];
captions.forEach(function (c) {
  var colL = c[0] === 0 ? 13 : 358, colW = c[0] === 0 ? 337 : 322;
  var cy = rowTop[c[1]] + PLOT_H + 61;
  c[2].forEach(function (line, i) {
    var d = document.createElement('div');
    d.className = 'cap';
    d.innerHTML = line[0];
    d.style.top = (cy + i * 22 - 11) + 'px';
    page.appendChild(d);
    var nat = d.getBoundingClientRect().width;
    var s = SX;
    if (line[1] === 'justify') {
      if (nat * s > colW) s = colW / nat;
      var gaps = line[0].split(' ').length - 1;
      d.style.wordSpacing = ((colW / s - nat) / gaps) + 'px';
      d.style.left = colL + 'px';
    } else if (line[1] === 'center') {
      d.style.left = (colL + (colW - nat * s) / 2) + 'px';
    } else {
      d.style.left = colL + 'px';
    }
    d.style.transform = 'scaleX(' + s + ')';
  });
});
</script>
</body>
</html>
